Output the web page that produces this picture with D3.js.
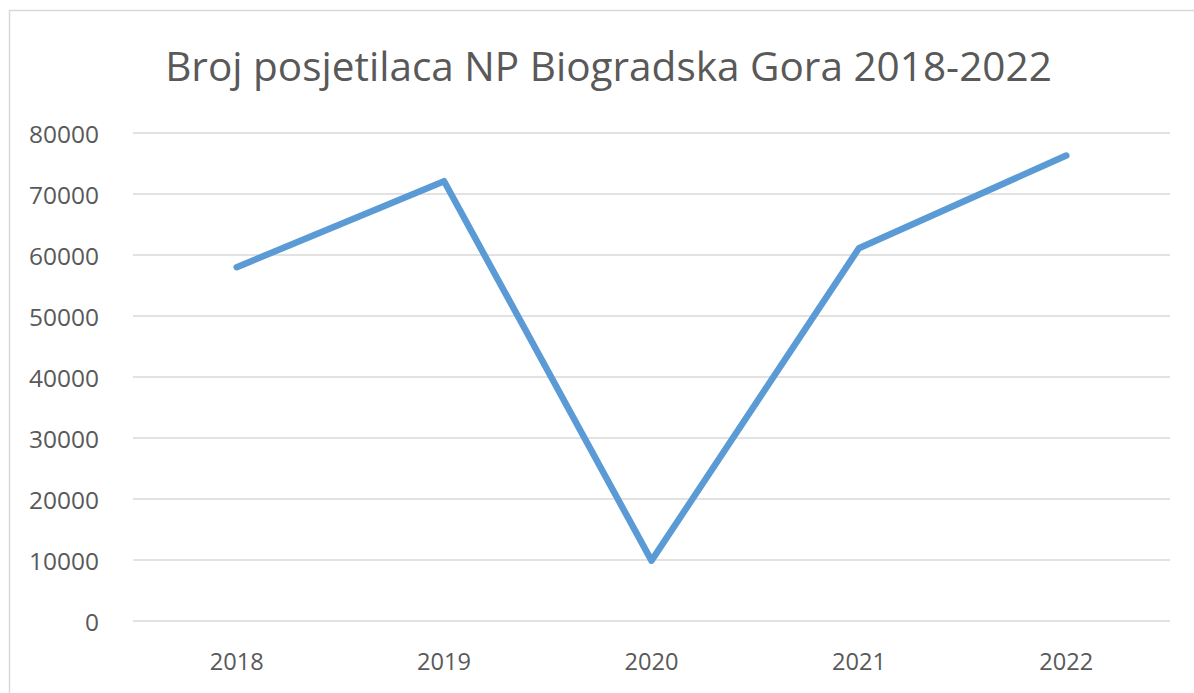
<!DOCTYPE html>
<html lang="hr">
<head>
    <meta charset="UTF-8">
    <title>Broj posjetilaca NP Biogradska Gora</title>
    <style>
        body { margin: 0; background: #fff; }
        text { font-family: "Open Sans", sans-serif; fill: #595959; }
    </style>
</head>
<body>
    <script src="https://cdn.jsdelivr.net/npm/d3@7"></script>
    <script>
        // Data
        const years = ["2018", "2019", "2020", "2021", "2022"];
        const visitors = [58000, 72100, 9900, 61100, 76300];
        const yTicks = [0, 10000, 20000, 30000, 40000, 50000, 60000, 70000, 80000];
        const title = "Broj posjetilaca NP Biogradska Gora 2018-2022";

        const width = 1194, height = 693,
            margin = {top: 133, right: 24, bottom: 72, left: 133};

        const svg = d3.select("body").append("svg")
            .attr("width", width)
            .attr("height", height);

        // shrink/grow a text's font size until it is as wide as the target
        function fitWidth(sel, target) {
            sel.each(function() {
                const t = d3.select(this);
                const fs = parseFloat(t.style("font-size"));
                const w = this.getComputedTextLength();
                t.style("font-size", (fs * target / w) + "px");
            });
        }

        // outer chart frame, cut off at right and bottom like the screenshot
        svg.append("rect")
            .attr("x", 9.5).attr("y", 10.5)
            .attr("width", 1400).attr("height", 900)
            .attr("fill", "none")
            .attr("stroke", "#d9d9d9")
            .attr("stroke-width", 1.5);

        const x = d3.scaleBand()
            .domain(years)
            .range([margin.left, width - margin.right]);

        const y = d3.scaleLinear()
            .domain([0, 80000])
            .range([height - margin.bottom, margin.top]);

        // gridlines
        svg.append("g")
            .selectAll("line")
            .data(yTicks)
            .enter()
            .append("line")
            .attr("x1", margin.left)
            .attr("x2", width - margin.right)
            .attr("y1", d => y(d))
            .attr("y2", d => y(d))
            .attr("stroke", "#d9d9d9")
            .attr("stroke-width", 1.5);

        // y axis labels
        const yAxis = svg.append("g")
            .attr("transform", "translate(" + (margin.left - 34) + ",0)")
            .call(d3.axisLeft(y).tickValues(yTicks).tickSize(0).tickPadding(0).tickFormat(d3.format("d")));
        yAxis.select(".domain").remove();
        yAxis.selectAll("text")
            .attr("dy", "9")
            .attr("fill", "#595959")
            .style("font-size", "22px");
        const ySample = yAxis.selectAll("text").filter(d => d === 80000).node();
        const ySize = 22 * 70 / ySample.getComputedTextLength();
        yAxis.selectAll("text").style("font-size", ySize + "px");

        // x axis labels
        const xAxis = svg.append("g")
            .attr("transform", "translate(0," + (height - margin.bottom + 49) + ")")
            .call(d3.axisBottom(x).tickSize(0).tickPadding(0));
        xAxis.select(".domain").remove();
        xAxis.selectAll("text")
            .attr("dy", "0")
            .attr("fill", "#595959")
            .style("font-size", "22px");
        const xSample = xAxis.select("text").node();
        const xSize = 22 * 54 / xSample.getComputedTextLength();
        xAxis.selectAll("text").style("font-size", xSize + "px");

        // the line
        const line = d3.line()
            .x((d, i) => x(years[i]) + x.bandwidth() / 2)
            .y(d => y(d));

        svg.append("path")
            .datum(visitors)
            .attr("d", line)
            .attr("fill", "none")
            .attr("stroke", "#5b9bd5")
            .attr("stroke-width", 6.5)
            .attr("stroke-linecap", "round")
            .attr("stroke-linejoin", "round");

        // title
        svg.append("text")
            .attr("x", 608.5)
            .attr("y", 81)
            .attr("text-anchor", "middle")
            .style("font-size", "40px")
            .text(title)
            .call(fitWidth, 887);
    </script>
</body>
</html>
